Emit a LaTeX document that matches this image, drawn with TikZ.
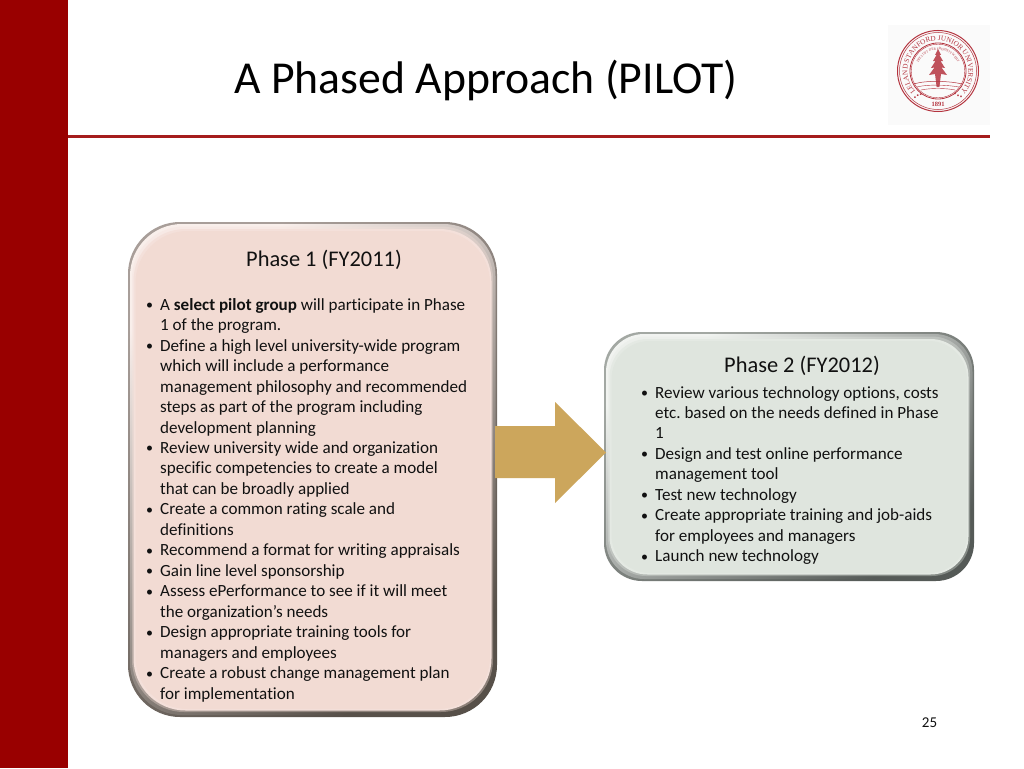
\documentclass[tikz,border=0pt]{standalone}
\usepackage{fontspec}
\setmainfont{Carlito}[Ligatures={NoCommon}]
\newfontfamily\sealfont{Liberation Serif}
\usetikzlibrary{decorations.text}
\definecolor{barred}{HTML}{990000}
\definecolor{rulered}{HTML}{A51C1C}
\definecolor{sealred}{HTML}{B4343F}
\definecolor{pinkfill}{HTML}{F2DBD3}
\definecolor{greenfill}{HTML}{DFE5DE}
\definecolor{arrowtan}{HTML}{CCA65C}
\definecolor{ink}{HTML}{111111}
\definecolor{pinkedge}{HTML}{A89E99}
\definecolor{pinkdark}{HTML}{575049}
\definecolor{greenedge}{HTML}{A3A8A3}
\definecolor{greendark}{HTML}{555A57}
\newcommand{\bevelbox}[7]{% x0,y0,x1,y1,r,tone prefix,fill
  \shade[top color=#6edge,bottom color=#6dark,shading angle=35,rounded corners=#5pt]
     (#1,#2) rectangle (#3,#4);
  \shade[top color=#7!45!white,bottom color=#6dark,shading angle=35,rounded corners=#5pt]
     ({#1+2},{#2+2}) rectangle ({#3-1.5},{#4-2});
  \shade[top color=#7!60!white,bottom color=#6dark!65!#7,shading angle=35,rounded corners=#5pt]
     ({#1+4},{#2+4.5}) rectangle ({#3-4},{#4-5});
  \fill[#7!85!white,rounded corners=#5pt] ({#1+5.5},{#2+7}) rectangle ({#3-5.5},{#4-6.5});
  \fill[#7,rounded corners=#5pt] ({#1+7.5},{#2+9}) rectangle ({#3-7},{#4-8});
}
\newcommand{\itm}[1]{\makebox[14pt][l]{\raisebox{.6pt}{\fontsize{14}{14}\selectfont\textbullet}}#1\\}
\newcommand{\cnt}[1]{\hspace*{14pt}#1\\}
\tikzset{
  listtext/.style={anchor=north west,inner sep=0pt,align=left,text=ink,
    font=\fontsize{17.07}{20.47}\selectfont\frenchspacing},
  headtext/.style={anchor=center,inner sep=0pt,text=ink,font=\fontsize{22.4}{26}\selectfont},
  sealline/.style={draw=sealred,line width=#1},
}
\begin{document}
\begin{tikzpicture}[x=1pt,y=-1pt]
\useasboundingbox (0,0) rectangle (1024,768);
\fill[white] (0,0) rectangle (1024,768);
\fill[barred] (0,0) rectangle (68,768);
\fill[rulered] (68,135) rectangle (990,138);
\node[anchor=center,inner sep=0pt,text=black,font=\fontsize{45.7}{50}\selectfont] (title) at (486,80) {A Phased Approach (PILOT)};
% seal
\fill[black!2] (888,25) rectangle (990,125);
\begin{scope}[shift={(938,71)},y=1pt]
  \draw[sealline=1pt] (0,0) circle[radius=40.5pt];
  \draw[sealline=.5pt] (0,0) circle[radius=38.5pt];
  \draw[sealline=.8pt] (0,0) circle[radius=28pt];
  \draw[sealline=.4pt] (0,0) circle[radius=26.8pt];
  \path[decorate,decoration={text along path,text align=center,text color=sealred,
     text={|\sealfont\fontsize{7.2}{8}\selectfont|LELAND STANFORD JUNIOR UNIVERSITY}}]
     (-135:30.5pt) arc[start angle=225,end angle=-45,radius=30.5pt];
  \path[decorate,decoration={text along path,text align=center,text color=sealred,
     text={|\sealfont\fontsize{3.4}{4}\selectfont|DIE LUFT DER FREIHEIT WEHT}}]
     (160:21pt) arc[start angle=160,end angle=20,radius=21pt];
  \node[inner sep=0pt,fill=black!2,text=sealred,font=\sealfont\bfseries\fontsize{6.5}{7}\selectfont] (year) at (0,-33) {1891};
  \node[inner sep=0pt,rotate=28,text=sealred,font=\fontsize{5}{5}\selectfont] (starsl) at (-20,-25) {\textbullet\,\textbullet\,\textbullet};
  \node[inner sep=0pt,rotate=-28,text=sealred,font=\fontsize{5}{5}\selectfont] (starsr) at (20,-25) {\textbullet\,\textbullet\,\textbullet};
  % tree
  \fill[sealred!85!white] (0,22) -- (3,16) -- (1.5,16) -- (5,10) -- (2.5,10) -- (7,3) -- (3.5,3.5) -- (9,-4) -- (3,-3)
     -- (1.4,-16) -- (-1.4,-16) -- (-3,-3) -- (-9,-4) -- (-3.5,3.5) -- (-7,3) -- (-2.5,10) -- (-5,10) -- (-1.5,16) -- (-3,16) -- cycle;
  \draw[sealline=.5pt] (-24,-13) .. controls (-12,-9) and (12,-10) .. (24,-13);
  \draw[sealline=.4pt] (-21,-16) .. controls (-10,-13) and (10,-14) .. (21,-16);
  \draw[sealline=.4pt] (-17,-19) .. controls (-8,-17) and (8,-17) .. (17,-19);
\end{scope}
% boxes
\bevelbox{128}{222}{497}{717}{52}{pink}{pinkfill}
\bevelbox{604}{332}{974}{581}{38}{green}{greenfill}
% arrow
\fill[arrowtan] (495,426) -- (555,426) -- (555,402) -- (606,452.5) -- (555,503) -- (555,478) -- (495,478) -- cycle;
% texts
\node[headtext] (h1) at (324,260) {Phase 1 (FY2011)};
\node[headtext] (h2) at (802,366) {Phase 2 (FY2012)};
\node[listtext] (l1) at (146,298) {%
\itm{A \textbf{select pilot group} will participate in Phase}
\cnt{1 of the program.}
\itm{Define a high level university-wide program}
\cnt{which will include a performance}
\cnt{management philosophy and recommended}
\cnt{steps as part of the program including}
\cnt{development planning}
\itm{Review university wide and organization}
\cnt{specific competencies to create a model}
\cnt{that can be broadly applied}
\itm{Create a common rating scale and}
\cnt{definitions}
\itm{Recommend a format for writing appraisals}
\itm{Gain line level sponsorship}
\itm{Assess ePerformance to see if it will meet}
\cnt{the organization’s needs}
\itm{Design appropriate training tools for}
\cnt{managers and employees}
\itm{Create a robust change management plan}
\cnt{for implementation}};
\node[listtext] (l2) at (641,386) {%
\itm{Review various technology options, costs}
\cnt{etc. based on the needs defined in Phase}
\cnt{1}
\itm{Design and test online performance}
\cnt{management tool}
\itm{Test new technology}
\itm{Create appropriate training and job-aids}
\cnt{for employees and managers}
\itm{Launch new technology}};
\node[anchor=center,inner sep=0pt,text=ink,font=\fontsize{15}{16}\selectfont] (pg) at (929.5,723) {25};
\end{tikzpicture}
\end{document}
